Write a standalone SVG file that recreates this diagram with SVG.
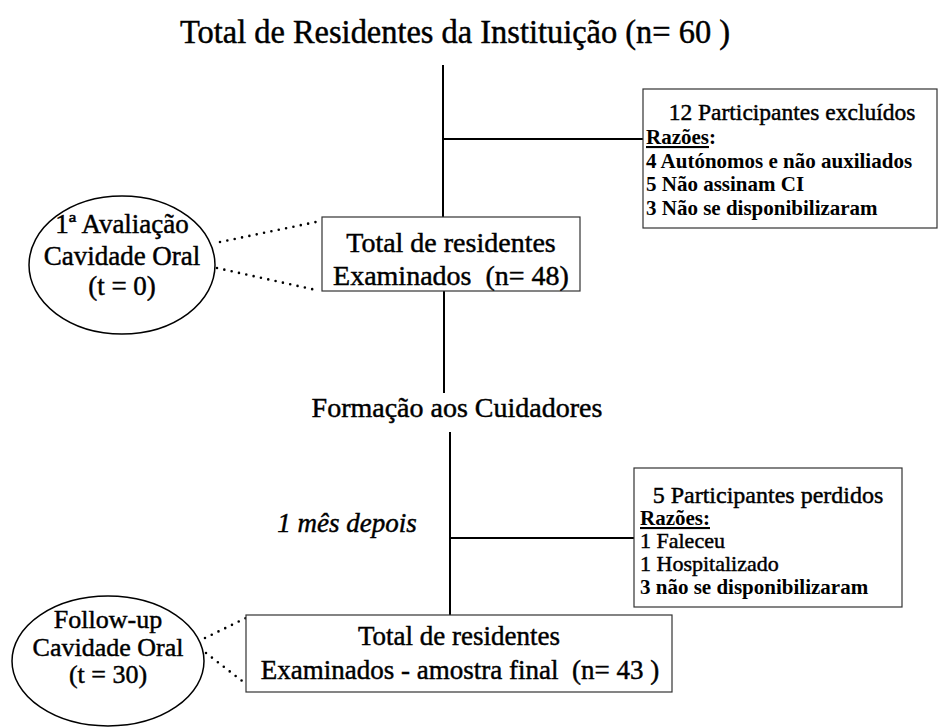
<svg xmlns="http://www.w3.org/2000/svg" width="939" height="728" viewBox="0 0 939 728">
<style>
.c{text-anchor:middle}
.t{stroke:#000;stroke-width:0.45}
.box{fill:#fff;stroke:#333;stroke-width:1.2}
.ell{fill:#fff;stroke:#000;stroke-width:1.5}
.ln{stroke:#000;stroke-width:2;fill:none}
.dot{stroke:#000;stroke-width:2.6;stroke-linecap:round;stroke-dasharray:0 7.5;fill:none}
.b{font-weight:bold}
.u{text-decoration:underline}
</style>
<rect width="939" height="728" fill="#fff"/>
<g id="connectors">
<line class="ln" x1="443" y1="65" x2="443" y2="217"/>
<line class="ln" x1="443" y1="139" x2="643" y2="139"/>
<line class="ln" x1="444" y1="291" x2="444" y2="393"/>
<line class="ln" x1="450" y1="432" x2="450" y2="615"/>
<line class="ln" x1="450" y1="538" x2="634" y2="538"/>
<path class="dot" d="M220 242 L316 222"/>
<path class="dot" d="M217 268 L316 290"/>
<path class="dot" d="M205 638 L246 618"/>
<path class="dot" d="M206 653 L246 684"/>
</g>
<g id="title">
<text font-family="'Liberation Serif'" class="c t" x="455" y="43" font-size="33" textLength="550" lengthAdjust="spacingAndGlyphs">Total de Residentes da Instituição (n= 60 )</text>
</g>
<g id="excluidos">
<rect class="box" x="643" y="89" width="294" height="139"/>
<text font-family="'Liberation Serif'" class="c t" x="792" y="120" font-size="23.5">12 Participantes excluídos</text>
<text font-family="'Liberation Serif'" x="646" y="144" font-size="21" class="b"><tspan class="u">Razões</tspan>:</text>
<text font-family="'Liberation Serif'" x="646" y="168" font-size="21" class="b">4 Autónomos e não auxiliados</text>
<text font-family="'Liberation Serif'" x="646" y="191" font-size="21" class="b">5 Não assinam CI</text>
<text font-family="'Liberation Serif'" x="646" y="215" font-size="21" class="b">3 Não se disponibilizaram</text>
</g>
<g id="aval1">
<ellipse class="ell" cx="122" cy="265" rx="93" ry="69"/>
<text font-family="'Liberation Serif'" class="c t" x="122" y="233" font-size="27">1ª Avaliação</text>
<text font-family="'Liberation Serif'" class="c t" x="122" y="265" font-size="27">Cavidade Oral</text>
<text font-family="'Liberation Serif'" class="c t" x="122" y="295" font-size="27">(t = 0)</text>
</g>
<g id="examinados48">
<rect class="box" x="322" y="217" width="258" height="74"/>
<text font-family="'Liberation Serif'" class="c t" x="451" y="252" font-size="28">Total de residentes</text>
<text font-family="'Liberation Serif'" class="c t" x="451" y="285" font-size="28" xml:space="preserve">Examinados  (n= 48)</text>
</g>
<g id="formacao">
<text font-family="'Liberation Serif'" class="c t" x="457" y="417" font-size="28">Formação aos Cuidadores</text>
</g>
<g id="mes">
<text font-family="'Liberation Serif'" class="c t" x="347" y="532" font-size="27" font-style="italic">1 mês depois</text>
</g>
<g id="perdidos">
<rect class="box" x="634" y="468" width="268" height="139"/>
<text font-family="'Liberation Serif'" class="c t" x="768" y="503" font-size="24">5 Participantes perdidos</text>
<text font-family="'Liberation Serif'" x="640" y="525" font-size="21" class="b u">Razões:</text>
<text font-family="'Liberation Serif'" class="t" x="640" y="548" font-size="22">1 Faleceu</text>
<text font-family="'Liberation Serif'" class="t" x="640" y="571" font-size="22">1 Hospitalizado</text>
<text font-family="'Liberation Serif'" x="640" y="594" font-size="21" class="b">3 não se disponibilizaram</text>
</g>
<g id="followup">
<ellipse class="ell" cx="108" cy="661" rx="96" ry="65"/>
<text font-family="'Liberation Serif'" class="c t" x="108" y="628" font-size="26">Follow-up</text>
<text font-family="'Liberation Serif'" class="c t" x="108" y="656" font-size="26">Cavidade Oral</text>
<text font-family="'Liberation Serif'" class="c t" x="108" y="683" font-size="26">(t = 30)</text>
</g>
<g id="amostrafinal">
<rect class="box" x="246" y="615" width="426" height="77"/>
<text font-family="'Liberation Serif'" class="c t" x="459" y="645" font-size="27">Total de residentes</text>
<text font-family="'Liberation Serif'" class="c t" x="460" y="679" font-size="27" xml:space="preserve">Examinados - amostra final  (n= 43 )</text>
</g>
</svg>
